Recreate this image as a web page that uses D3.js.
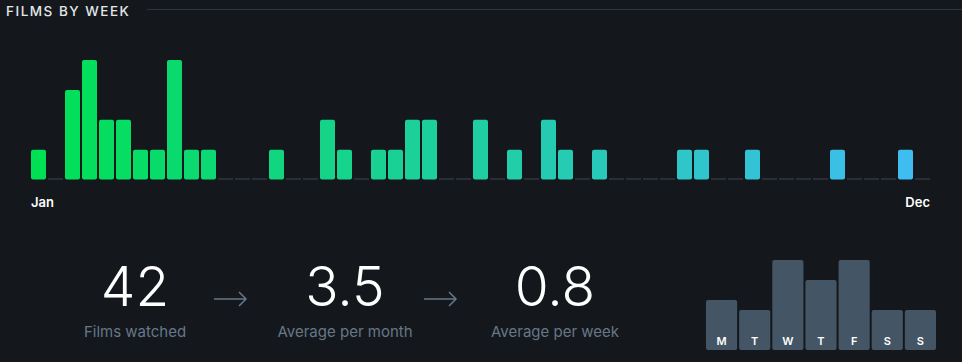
<!DOCTYPE html>
<html>
<head>
<meta charset="utf-8">
<script src="https://cdn.jsdelivr.net/npm/d3@7"></script>
<style>
  body { margin: 0; background: #14181c; }
  svg { display: block; font-family: Inter, "Open Sans", sans-serif; }
</style>
</head>
<body>
<svg id="chart" width="962" height="362"></svg>
<script>
// films watched per week, week 1..53
var weeks = d3.range(53);
var filmsPerWeek = [1,0,3,4,2,2,1,1,4,1,1,0,0,0,1,0,0,2,1,0,1,1,2,2,0,0,2,0,1,0,2,1,0,1,0,0,0,0,1,1,0,0,1,0,0,0,0,1,0,0,0,1,0];
var weekLabels = ["Jan", "Dec"];

var days = ["M", "T", "W", "T", "F", "S", "S"];
var filmsPerDay = [5, 4, 9, 7, 9, 4, 4];

var stats = [
  {value: "42", label: "Films watched"},
  {value: "3.5", label: "Average per month"},
  {value: "0.8", label: "Average per week"}
];

var svg = d3.select("#chart");

// header
svg.append("text")
  .attr("x", 6).attr("y", 15.5)
  .attr("fill", "#e2e7ea")
  .attr("font-size", 13.5)
  .attr("font-weight", 500)
  .attr("letter-spacing", 1.5)
  .text("FILMS BY WEEK");
svg.append("line")
  .attr("x1", 147).attr("x2", 962)
  .attr("y1", 9.5).attr("y2", 9.5)
  .attr("stroke", "#2c3440");

// weekly bars
var x = d3.scaleBand().domain(weeks).range([31, 930]).paddingInner(2 / 17).paddingOuter(0);
var y = d3.scaleLinear().domain([0, 4]).range([179.5, 60]);
var color = d3.scaleLinear().domain([0, 52]).range(["#00e054", "#40bcf4"]).interpolate(d3.interpolateRgb);

var wk = svg.append("g");
wk.selectAll("rect.bar")
  .data(weeks.filter(function(i) { return filmsPerWeek[i] > 0; }))
  .enter().append("rect")
  .attr("class", "bar")
  .attr("x", function(i) { return x(i); })
  .attr("y", function(i) { return y(filmsPerWeek[i]); })
  .attr("width", x.bandwidth())
  .attr("height", function(i) { return y(0) - y(filmsPerWeek[i]); })
  .attr("rx", 2)
  .attr("fill", function(i) { return color(i); });

wk.selectAll("line.empty")
  .data(weeks.filter(function(i) { return filmsPerWeek[i] == 0; }))
  .enter().append("line")
  .attr("class", "empty")
  .attr("x1", function(i) { return x(i); })
  .attr("x2", function(i) { return x(i) + x.bandwidth(); })
  .attr("y1", y(0) - 0.5).attr("y2", y(0) - 0.5)
  .attr("stroke", "#3a4450");

svg.append("text")
  .attr("x", x(0)).attr("y", 207)
  .attr("fill", "#fff").attr("font-size", 13).attr("font-weight", 600)
  .text(weekLabels[0]);
svg.append("text")
  .attr("x", x(52) + x.bandwidth()).attr("y", 207)
  .attr("text-anchor", "end")
  .attr("fill", "#fff").attr("font-size", 13).attr("font-weight", 600)
  .text(weekLabels[1]);

// stats
var sx = d3.scalePoint().domain(d3.range(stats.length)).range([135, 555]);
var st = svg.selectAll("g.stat")
  .data(stats)
  .enter().append("g")
  .attr("class", "stat")
  .attr("transform", function(d, i) { return "translate(" + sx(i) + ",0)"; });
st.append("text")
  .attr("y", 306).attr("text-anchor", "middle")
  .attr("fill", "#fff").attr("font-size", 55).attr("font-weight", 300)
  .text(function(d) { return d.value; });
st.append("text")
  .attr("y", 337).attr("text-anchor", "middle")
  .attr("fill", "#678").attr("font-size", 15)
  .text(function(d) { return d.label; });

// arrows between stats
svg.selectAll("path.arrow")
  .data(d3.range(stats.length - 1))
  .enter().append("path")
  .attr("class", "arrow")
  .attr("d", function(i) {
    var cx = (sx(i) + sx(i + 1)) / 2 - 10;
    return "M" + (cx - 16) + ",299 H" + (cx + 16) + " M" + (cx + 9) + ",292 L" + (cx + 16) + ",299 L" + (cx + 9) + ",306";
  })
  .attr("fill", "none")
  .attr("stroke", "#678")
  .attr("stroke-width", 1.5);

// day of week bars
var dx = d3.scaleBand().domain(d3.range(7)).range([706, 936]).paddingInner(0.06).paddingOuter(0);
var dy = d3.scaleLinear().domain([0, 9]).range([350, 260]);
var dg = svg.append("g");
dg.selectAll("rect")
  .data(filmsPerDay)
  .enter().append("rect")
  .attr("x", function(d, i) { return dx(i); })
  .attr("y", function(d) { return dy(d); })
  .attr("width", dx.bandwidth())
  .attr("height", function(d) { return dy(0) - dy(d); })
  .attr("rx", 2)
  .attr("fill", "#456");
dg.selectAll("text")
  .data(days)
  .enter().append("text")
  .attr("x", function(d, i) { return dx(i) + dx.bandwidth() / 2; })
  .attr("y", 345)
  .attr("text-anchor", "middle")
  .attr("fill", "#fff").attr("font-size", 11).attr("font-weight", 600)
  .text(function(d) { return d; });
</script>
</body>
</html>
